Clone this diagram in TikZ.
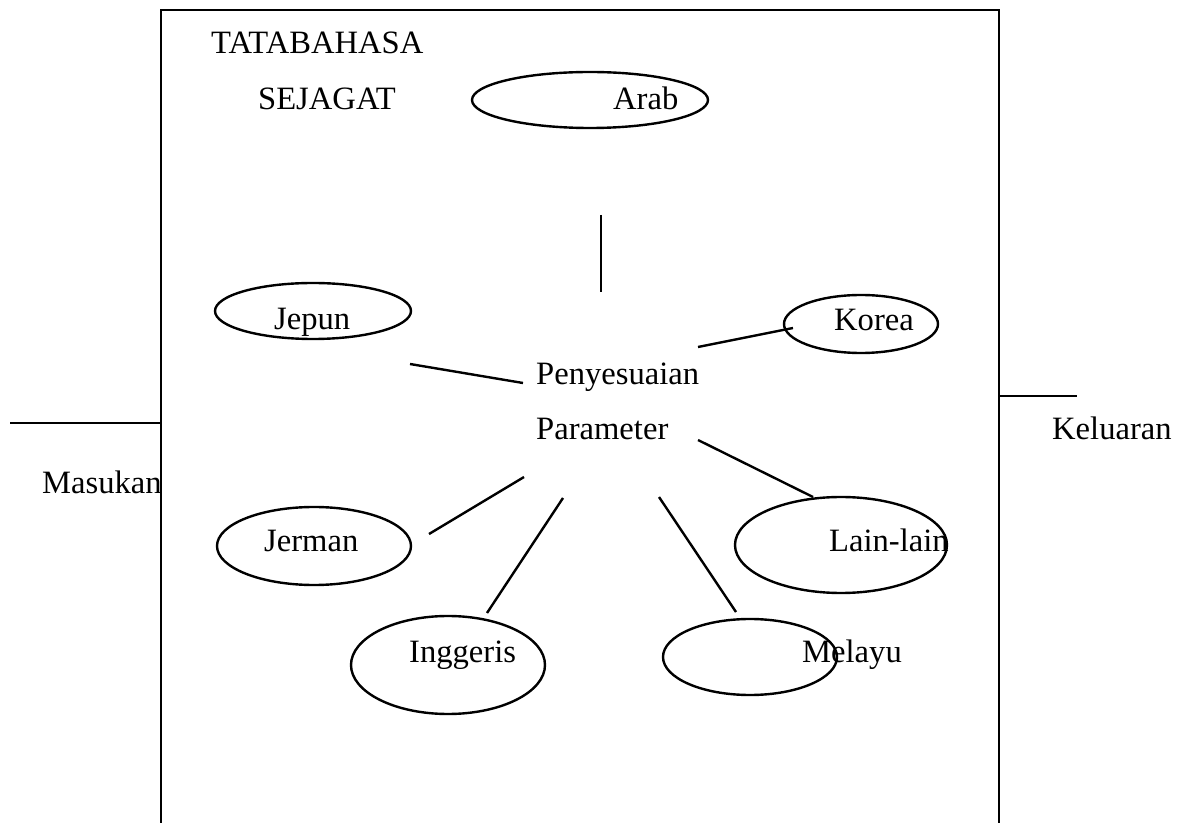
\documentclass[tikz,border=0pt]{standalone}
\usepackage{fontspec}
\setmainfont{Liberation Serif}
\usepackage{tikz}
\usetikzlibrary{shapes.geometric}
\tikzstyle{lang}=[ellipse, draw=black, line width=1.2pt, inner sep=0pt]
\tikzstyle{word}=[anchor=base west, inner sep=0pt]

\begin{document}
\begin{tikzpicture}[x=0.5pt, y=-0.5pt, line width=1.2pt, font=\fontsize{16.3}{19}\selectfont]
    \useasboundingbox (0,0) rectangle (1179,823);

    % the big box, open at the bottom
    \coordinate (bl) at (161,823);
    \coordinate (tl) at (161,10);
    \coordinate (tr) at (999,10);
    \coordinate (br) at (999,823);
    \draw (bl) -- (tl) -- (tr) -- (br);

    \node[word] (tata) at (210,54) {TATABAHASA};
    \node[word] (seja) at (257,110) {SEJAGAT};

    \node[lang, minimum width=118pt, minimum height=28pt] (arab) at (590,100) {};
    \node[word] (arabt) at (612,110) {Arab};

    \node[lang, minimum width=98pt, minimum height=28pt] (jepun) at (313,311) {};
    \node[word] (jepunt) at (273,330) {Jepun};

    \node[lang, minimum width=77pt, minimum height=29pt] (korea) at (861,324) {};
    \node[word] (koreat) at (833,331) {Korea};

    \node[word] (peny) at (535,385) {Penyesuaian};
    \node[word] (para) at (535,440) {Parameter};

    \node[lang, minimum width=97pt, minimum height=39pt] (jerman) at (314,546) {};
    \node[word] (jermant) at (263,552) {Jerman};

    \node[lang, minimum width=106pt, minimum height=48pt] (lain) at (841,545) {};
    \node[word] (laint) at (828,552) {Lain-lain};

    \node[lang, minimum width=97pt, minimum height=49pt] (ingg) at (448,665) {};
    \node[word] (inggt) at (408,662) {Inggeris};

    \node[lang, minimum width=87pt, minimum height=38pt] (melayu) at (750,657) {};
    \node[word] (melayut) at (801,662) {Melayu};

    % input and output
    \coordinate (in1) at (10,423);
    \coordinate (in2) at (161,423);
    \node[word] (masuk) at (41,494) {Masukan};
    \coordinate (out1) at (999,396);
    \coordinate (out2) at (1077,396);
    \node[word] (keluar) at (1051,440) {Keluaran};

    % spokes round the centre
    \coordinate (a1) at (601,215);   \coordinate (a2) at (601,292);
    \coordinate (j1) at (410,364);   \coordinate (j2) at (523,383);
    \coordinate (k1) at (698,347);   \coordinate (k2) at (793,328);
    \coordinate (g1) at (429,534);   \coordinate (g2) at (524,477);
    \coordinate (i1) at (487,613);   \coordinate (i2) at (563,498);
    \coordinate (m1) at (659,497);   \coordinate (m2) at (736,612);
    \coordinate (l1) at (698,440);   \coordinate (l2) at (813,497);

    \foreach \to/\from in {a1/a2, j1/j2, k1/k2, g1/g2, i1/i2, m1/m2, l1/l2, in1/in2, out1/out2}
      \draw (\to) -- (\from);
\end{tikzpicture}
\end{document}
